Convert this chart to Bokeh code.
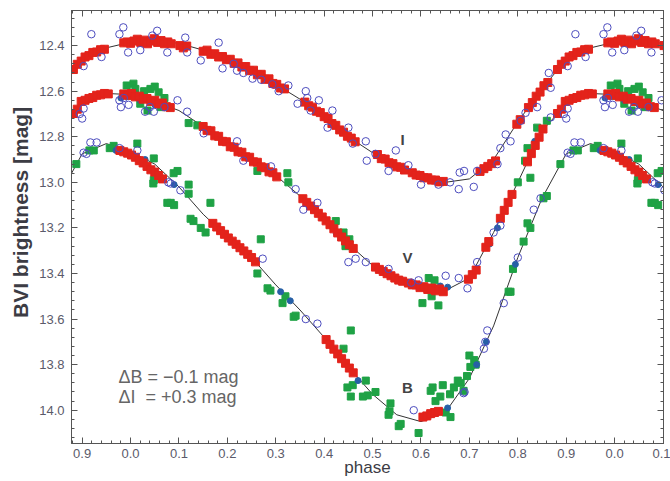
import numpy as np
from bokeh.plotting import figure
from bokeh.models import Label, LinearAxis, FixedTicker, Range1d, PrintfTickFormatter
from bokeh.embed import file_html
from bokeh.resources import INLINE

# ---------------- model curves (phase 0..1) ----------------
curve_phase = [0.00, 0.05, 0.10, 0.15, 0.20, 0.25, 0.30, 0.35, 0.40, 0.45, 0.50,
               0.55, 0.60, 0.65, 0.70, 0.75, 0.80, 0.85, 0.90, 0.95, 1.00]
i_curve = [12.385, 12.380, 12.390, 12.420, 12.460, 12.510, 12.570, 12.635, 12.710, 12.800, 12.870,
           12.930, 12.975, 13.000, 12.985, 12.900, 12.735, 12.590, 12.460, 12.410, 12.385]
v_curve = [12.615, 12.645, 12.685, 12.755, 12.830, 12.900, 12.970, 13.060, 13.160, 13.270, 13.365,
           13.425, 13.460, 13.475, 13.420, 13.220, 13.000, 12.775, 12.655, 12.610, 12.615]
b_curve = [12.865, 12.920, 13.020, 13.140, 13.240, 13.330, 13.450, 13.560, 13.680, 13.810, 13.930,
           14.020, 14.050, 14.010, 13.860, 13.630, 13.330, 13.070, 12.875, 12.830, 12.865]

# ---------------- I band ----------------
i_red_phase = [0.000, 0.007, 0.014, 0.021, 0.028, 0.035, 0.042, 0.049, 0.056, 0.063, 0.070, 0.077, 0.084,
               0.102, 0.109, 0.116,
               0.150, 0.158, 0.166, 0.174, 0.182, 0.190, 0.198, 0.206, 0.214, 0.222, 0.230, 0.238,
               0.246, 0.254, 0.262, 0.270, 0.278, 0.286, 0.294, 0.302, 0.310, 0.318,
               0.360, 0.368, 0.376, 0.384, 0.392, 0.400, 0.408, 0.416, 0.424, 0.432, 0.440, 0.448,
               0.456, 0.464,
               0.510, 0.518, 0.526, 0.534, 0.542, 0.550, 0.558, 0.566,
               0.582, 0.590, 0.598, 0.606, 0.614, 0.622, 0.630, 0.638, 0.646,
               0.722, 0.730, 0.738, 0.746, 0.754,
               0.798, 0.805,
               0.822, 0.830, 0.838, 0.846, 0.854, 0.862,
               0.882, 0.890, 0.898, 0.906, 0.914, 0.922, 0.930, 0.938, 0.946,
               0.986, 0.993]
i_red_mag = [12.390, 12.380, 12.372, 12.386, 12.376, 12.392, 12.380, 12.370, 12.386, 12.378, 12.392, 12.384, 12.392,
             12.400, 12.410, 12.402,
             12.425, 12.420, 12.438, 12.436, 12.450, 12.448, 12.462, 12.460, 12.478, 12.476, 12.494, 12.492,
             12.510, 12.508, 12.528, 12.526, 12.548, 12.546, 12.566, 12.570, 12.586, 12.590,
             12.648, 12.664, 12.670, 12.688, 12.694, 12.712, 12.720, 12.742, 12.750, 12.770, 12.780, 12.798,
             12.806, 12.822,
             12.878, 12.896, 12.898, 12.914, 12.918, 12.932, 12.934, 12.946,
             12.958, 12.968, 12.970, 12.980, 12.980, 12.990, 12.990, 12.998, 12.996,
             12.952, 12.940, 12.930, 12.918, 12.906,
             12.745, 12.725,
             12.672, 12.650, 12.622, 12.604, 12.576, 12.562,
             12.505, 12.482, 12.468, 12.450, 12.444, 12.430, 12.428, 12.418, 12.416,
             12.388, 12.384]
i_blue_phase = [0.020, 0.045, 0.055, 0.076, 0.113, 0.117, 0.145, 0.182, 0.190, 0.213, 0.220, 0.233,
                0.252, 0.270, 0.293, 0.306, 0.326, 0.345, 0.362, 0.365, 0.372, 0.389, 0.407, 0.417,
                0.450, 0.459, 0.486, 0.488, 0.506, 0.533, 0.548, 0.574, 0.600, 0.636, 0.660, 0.680,
                0.678, 0.689, 0.709, 0.716, 0.758, 0.764, 0.775, 0.785, 0.806, 0.816, 0.840, 0.864,
                0.868, 0.903, 0.919, 0.940, 0.977, 0.985, 0.995]
i_blue_mag = [12.420, 12.356, 12.335, 12.430, 12.365, 12.430, 12.465, 12.387, 12.500, 12.480, 12.510, 12.520,
              12.545, 12.550, 12.570, 12.600, 12.575, 12.655, 12.600, 12.630, 12.685, 12.640, 12.760, 12.685,
              12.760, 12.830, 12.820, 12.905, 12.875, 12.950, 12.860, 12.925, 13.010, 13.010, 13.000, 12.957,
              13.030, 12.950, 13.020, 12.950, 12.920, 12.850, 12.790, 12.820, 12.730, 12.695, 12.670, 12.520,
              12.585, 12.490, 12.350, 12.450, 12.350, 12.320, 12.430]

# ---------------- V band ----------------
v_red_phase = [0.898, 0.906, 0.914, 0.922, 0.930, 0.938, 0.946, 0.954,
               0.986, 0.994, 0.002, 0.010, 0.018, 0.026, 0.034, 0.042, 0.050, 0.058, 0.066, 0.074, 0.082,
               0.150, 0.158, 0.166, 0.174, 0.182, 0.190, 0.198, 0.206, 0.214, 0.222, 0.230, 0.238,
               0.246, 0.254, 0.262, 0.270, 0.278, 0.286, 0.294, 0.302,
               0.356, 0.364, 0.372, 0.380, 0.388, 0.396, 0.404, 0.412, 0.420, 0.428, 0.436, 0.444,
               0.452, 0.460,
               0.506, 0.514, 0.522, 0.530, 0.538, 0.546, 0.554, 0.562,
               0.574, 0.582, 0.590, 0.598, 0.606, 0.614, 0.622, 0.630, 0.638, 0.646,
               0.698, 0.706, 0.714, 0.734, 0.740,
               0.764, 0.772, 0.780, 0.788,
               0.820, 0.828, 0.836, 0.844, 0.852,
               0.882, 0.890]
v_red_mag = [12.645, 12.640, 12.632, 12.628, 12.618, 12.616, 12.610, 12.612,
             12.612, 12.618, 12.610, 12.625, 12.622, 12.635, 12.632, 12.645, 12.640, 12.656, 12.652, 12.668, 12.672,
             12.755, 12.772, 12.774, 12.796, 12.798, 12.820, 12.822, 12.844, 12.846, 12.866, 12.868, 12.888,
             12.890, 12.910, 12.912, 12.932, 12.936, 12.954, 12.958, 12.976,
             13.072, 13.088, 13.104, 13.120, 13.136, 13.152, 13.169, 13.186, 13.204, 13.222, 13.240, 13.257,
             13.274, 13.290,
             13.372, 13.382, 13.391, 13.401, 13.410, 13.420, 13.429, 13.434,
             13.442, 13.450, 13.450, 13.462, 13.458, 13.470, 13.464, 13.476, 13.468, 13.480,
             13.425, 13.405, 13.385, 13.285, 13.260,
             13.158, 13.123, 13.088, 13.053,
             12.910, 12.874, 12.838, 12.802, 12.766,
             12.698, 12.679]
v_green_phase = [0.006, 0.010, 0.041, 0.058, 0.020, 0.035, 0.062, 0.028, 0.050, 0.070, 0.120, 0.138,
                 0.262, 0.324, 0.326, 0.424, 0.440, 0.444, 0.452, 0.616, 0.628, 0.603, 0.636, 0.622,
                 0.840, 0.860, 0.820, 0.815, 0.826, 0.800, 0.992, 0.996]
v_green_mag = [12.567, 12.590, 12.590, 12.605, 12.655, 12.685, 12.670, 12.600, 12.580, 12.630, 12.740, 12.750,
               12.950, 12.960, 13.000, 13.170, 13.220, 13.280, 13.250, 13.420, 13.430, 13.530, 13.540, 13.500,
               12.760, 12.730, 12.850, 12.905, 12.980, 13.000, 12.575, 12.620]
v_blue_phase = [0.903, 0.900, 0.986, 0.996, 0.030, 0.097, 0.117, 0.151, 0.220, 0.233, 0.290, 0.341,
                0.386, 0.357, 0.450, 0.465, 0.486, 0.533, 0.651, 0.678, 0.696, 0.716, 0.750, 0.764,
                0.868, 0.895, 0.977, 0.980, 0.040, 0.070, 0.048, 0.580, 0.595]
v_blue_mag = [12.676, 12.720, 12.630, 12.660, 12.690, 12.640, 12.690, 12.785, 12.820, 12.905, 12.930, 13.030,
              13.090, 13.120, 13.350, 13.335, 13.350, 13.380, 13.410, 13.420, 13.465, 13.350, 13.220, 13.190,
              12.715, 12.700, 12.640, 12.670, 12.670, 12.670, 12.690, 13.440, 13.430]

# ---------------- B band ----------------
b_red_phase = [0.978, 0.986, 0.994, 0.002, 0.010, 0.018, 0.026, 0.034, 0.042, 0.050, 0.058, 0.066,
               0.170, 0.178, 0.186, 0.194, 0.202, 0.210, 0.218, 0.226, 0.234, 0.242, 0.250, 0.258,
               0.404, 0.412, 0.420, 0.428, 0.436, 0.444, 0.452, 0.460,
               0.604, 0.612, 0.620, 0.628, 0.636]
b_red_mag = [12.860, 12.866, 12.872, 12.880, 12.890, 12.905, 12.915, 12.930, 12.945, 12.955, 12.970, 12.985,
             13.180, 13.196, 13.212, 13.228, 13.244, 13.258, 13.272, 13.287, 13.301, 13.316, 13.330, 13.349,
             13.690, 13.711, 13.732, 13.753, 13.774, 13.794, 13.815, 13.836,
             14.030, 14.025, 14.015, 14.010, 14.005]
b_green_phase = [0.924, 0.965, 0.014, 0.048, 0.048, 0.097, 0.120, 0.076, 0.083, 0.090, 0.120, 0.165,
                 0.124, 0.130, 0.145, 0.155, 0.269, 0.262, 0.283, 0.289, 0.314, 0.320, 0.337, 0.341,
                 0.440, 0.455, 0.448, 0.459, 0.455, 0.486, 0.490, 0.506, 0.480, 0.533, 0.537, 0.535,
                 0.554, 0.558, 0.595, 0.620, 0.624, 0.640, 0.660, 0.651, 0.661, 0.688, 0.682, 0.702,
                 0.710, 0.713, 0.781, 0.785, 0.790, 0.812, 0.826, 0.820, 0.853, 0.860, 0.888, 0.915,
                 0.957, 0.047, 0.089, 0.630, 0.645, 0.668, 0.676, 0.695, 0.700]
b_green_mag = [12.860, 12.840, 12.830, 12.895, 12.990, 12.950, 13.010, 13.090, 13.090, 13.100, 13.050, 13.090,
               13.160, 13.170, 13.200, 13.220, 13.250, 13.400, 13.465, 13.475, 13.530, 13.500, 13.590, 13.585,
               13.730, 13.650, 13.900, 13.890, 13.940, 13.870, 13.935, 13.920, 13.940, 14.020, 13.970, 14.005,
               14.070, 14.060, 14.100, 13.915, 13.900, 13.940, 13.930, 14.010, 14.030, 13.915, 13.880, 13.810,
               13.780, 13.800, 13.480, 13.480, 13.380, 13.260, 13.200, 13.180, 13.070, 13.060, 12.920, 12.860,
               12.850, 13.005, 12.960, 13.960, 13.890, 13.900, 13.870, 13.850, 13.760]
b_blue_phase = [0.903, 0.917, 0.930, 0.014, 0.083, 0.103, 0.273, 0.362, 0.386, 0.585, 0.688, 0.730,
                0.737, 0.771, 0.800, 0.733, 0.690, 0.909, 0.847, 0.833, 0.977, 0.078]
b_blue_mag = [12.870, 12.825, 12.825, 12.860, 13.005, 13.035, 13.335, 13.600, 13.620, 14.000, 13.925, 13.730,
              13.650, 13.530, 13.330, 13.700, 13.920, 12.875, 13.070, 13.120, 12.850, 13.000]

# dark blue filled points (V and B)
navy_phase = [0.425, 0.445, 0.640, 0.655, 0.742, 0.758, 0.835, 0.020, 0.050, 0.980,
              0.310, 0.330, 0.435, 0.470, 0.655, 0.715, 0.735, 0.795, 0.970, 0.030, 0.090]
navy_mag = [13.225, 13.260, 13.455, 13.460, 13.270, 13.200, 12.820, 12.640, 12.660, 12.630,
            13.480, 13.520, 13.770, 13.870, 13.990, 13.800, 13.700, 13.360, 12.860, 12.900, 13.010]

x_tick_values = [-0.1, 0.0, 0.1, 0.2, 0.3, 0.4, 0.5, 0.6, 0.7, 0.8, 0.9, 1.0, 1.1]
x_tick_labels = ["0.9", "0.0", "0.1", "0.2", "0.3", "0.4", "0.5", "0.6", "0.7", "0.8", "0.9", "0.0", "0.1"]
y_tick_values = [12.4, 12.6, 12.8, 13.0, 13.2, 13.4, 13.6, 13.8, 14.0]


def wrap(ph):
    ph = np.asarray(ph, dtype=float)
    return np.concatenate([ph - 1.0, ph, ph + 1.0])


def rep(m):
    m = np.asarray(m, dtype=float)
    return np.concatenate([m, m, m])


FONT = "Liberation Sans"
AXC = "#555555"

p = figure(width=670, height=481, output_backend="svg", toolbar_location=None,
           x_range=Range1d(-0.122, 1.101), y_range=Range1d(14.146, 12.246),
           min_border_left=71, min_border_right=7, min_border_top=10, min_border_bottom=38,
           background_fill_color="white", border_fill_color="white")
p.xgrid.visible = False
p.ygrid.visible = False
p.outline_line_color = AXC

x_minor = list(np.round(np.arange(-0.12, 1.101, 0.02), 3))
y_minor = list(np.round(np.arange(12.28, 14.15, 0.04), 3))
xt = FixedTicker(ticks=x_tick_values, minor_ticks=x_minor)
yt = FixedTicker(ticks=y_tick_values, minor_ticks=y_minor)

for ax in (p.xaxis[0], p.yaxis[0]):
    ax.major_tick_in = 6
    ax.major_tick_out = 0
    ax.minor_tick_in = 3
    ax.minor_tick_out = 0
    ax.axis_line_color = AXC
    ax.major_tick_line_color = AXC
    ax.minor_tick_line_color = AXC
    ax.major_label_text_font = FONT
    ax.major_label_text_font_size = "13px"
    ax.major_label_text_color = "#5a5a6a"
    ax.axis_label_text_font = FONT
    ax.axis_label_text_color = "#3c3c44"
p.xaxis[0].ticker = xt
p.yaxis[0].ticker = yt
p.yaxis[0].formatter = PrintfTickFormatter(format="%.1f")
p.xaxis[0].major_label_overrides = {v: l for v, l in zip(x_tick_values, x_tick_labels)}
p.xaxis[0].major_label_standoff = 5
p.yaxis[0].major_label_standoff = 7
p.xaxis[0].axis_label = "phase"
p.xaxis[0].axis_label_text_font_size = "17px"
p.xaxis[0].axis_label_text_font_style = "normal"
p.xaxis[0].axis_label_standoff = -3
p.yaxis[0].axis_label = "\u00a0\u00a0\u00a0\u00a0\u00a0BVI brightness [mag]"
p.yaxis[0].axis_label_text_font_size = "21px"
p.yaxis[0].axis_label_text_font_style = "bold"
p.yaxis[0].axis_label_standoff = 4

# tick-only axes on top and right (major positions long, minor short)
for loc, major, minor in (("above", x_tick_values, x_minor), ("right", y_tick_values, y_minor)):
    for pos, ln in ((major, 6), (minor, 3)):
        ax = LinearAxis(ticker=FixedTicker(ticks=[], minor_ticks=pos), major_label_standoff=0,
                        major_tick_in=0, major_tick_out=0, minor_tick_in=ln, minor_tick_out=0,
                        axis_line_color=AXC, minor_tick_line_color=AXC)
        p.add_layout(ax, loc)

# model curves
for c in (i_curve, v_curve, b_curve):
    p.line(wrap(curve_phase), rep(c), line_color="#333333", line_width=1)

GREEN = "#1fa245"
RED = "#e3231b"
BLUE = "#4d4dbf"
NAVY = "#2760a6"

p.scatter(wrap(v_green_phase), rep(v_green_mag), marker="square", size=7, fill_color=GREEN, line_color=GREEN)
p.scatter(wrap(b_green_phase), rep(b_green_mag), marker="square", size=7, fill_color=GREEN, line_color=GREEN)
p.scatter(wrap(navy_phase), rep(navy_mag), marker="circle", size=6, fill_color=NAVY, line_color=NAVY)
for ph, m in ((i_red_phase, i_red_mag), (v_red_phase, v_red_mag), (b_red_phase, b_red_mag)):
    p.scatter(wrap(ph), rep(m), marker="square", size=8, fill_color=RED, line_color=RED)
for ph, m in ((i_blue_phase, i_blue_mag), (v_blue_phase, v_blue_mag), (b_blue_phase, b_blue_mag)):
    p.scatter(wrap(ph), rep(m), marker="circle", size=7.5, fill_color=None, line_color=BLUE, line_width=1)

# band labels
for t, x, y in (("I", 0.562, 12.81), ("V", 0.572, 13.33), ("B", 0.572, 13.90)):
    p.add_layout(Label(x=x, y=y, text=t, text_font=FONT, text_font_size="15px", text_font_style="bold",
                       text_color="#444444", text_align="center", text_baseline="middle"))

p.add_layout(Label(x=-0.025, y=13.856, text="\u0394B = \u22120.1 mag", text_font=FONT, text_font_size="18px",
                   text_color="#666666", text_align="left", text_baseline="middle"))
p.add_layout(Label(x=-0.025, y=13.944, text="\u0394I\u00a0 = +0.3 mag", text_font=FONT, text_font_size="18px",
                   text_color="#666666", text_align="left", text_baseline="middle"))

open("out.html", "w").write(file_html(p, INLINE))
